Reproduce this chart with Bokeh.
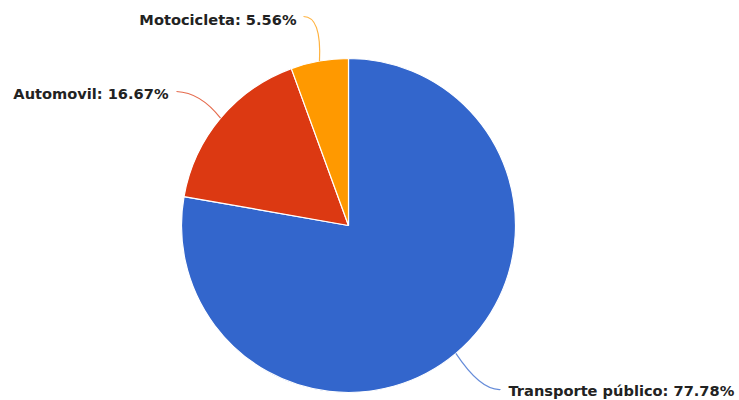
import math
from bokeh.plotting import figure
from bokeh.models import Range1d, ColumnDataSource
from bokeh.core.properties import value
from bokeh.embed import file_html
from bokeh.resources import INLINE

# ---- data ----
categories = ["Transporte público", "Automovil", "Motocicleta"]
percents = [77.78, 16.67, 5.56]
colors = ["#3366cc", "#dc3912", "#ff9900"]

# ---- layout ----
W, H = 739, 400
CX, CY, R = 348, H - 225, 167

p = figure(width=W, height=H, output_backend="svg", toolbar_location=None,
           x_range=Range1d(0, W), y_range=Range1d(0, H), min_border=0)
p.axis.visible = False
p.grid.visible = False
p.outline_line_color = None
p.background_fill_color = "white"

total = sum(percents)
starts, ends, mids = [], [], []
acc = 0.0
for v in percents:
    a0 = math.pi / 2 - 2 * math.pi * acc / total
    acc += v
    a1 = math.pi / 2 - 2 * math.pi * acc / total
    starts.append(a0)
    ends.append(a1)
    mids.append((a0 + a1) / 2)

src = ColumnDataSource(dict(start=starts, end=ends, color=colors,
                            x=[CX] * 3, y=[CY] * 3))
p.wedge(x="x", y="y", radius=R, start_angle="start", end_angle="end",
        direction="clock", fill_color="color", line_color="white",
        line_width=1.2, source=src)

# label anchors (screen coords) and connector controls
label_pos = [(508, 390, "left"), (168, 93, "right"), (296, 19, "right")]
conn_end = [(500, 389), (176, 91), (303, 16)]
conn_ctrl = [(480, 390), (200, 92), (321, 16)]

for i, cat in enumerate(categories):
    ex = CX + R * math.cos(mids[i])
    ey = CY + R * math.sin(mids[i])
    cx, cy = conn_ctrl[i]
    tx, ty = conn_end[i]
    p.quadratic(x0=[ex], y0=[ey], x1=[tx], y1=[H - ty], cx=[cx], cy=[H - cy],
                line_color=colors[i], line_alpha=0.75, line_width=1.2)
    lx, ly, al = label_pos[i]
    p.text(x=[lx], y=[H - ly], text=[f"{cat}: {percents[i]:.2f}%"],
           text_font=value("DejaVu Sans"), text_font_style="bold",
           text_font_size="14.6px", text_color="#222222",
           text_align=al, text_baseline="middle")

open("out.html", "w").write(file_html(p, INLINE))
